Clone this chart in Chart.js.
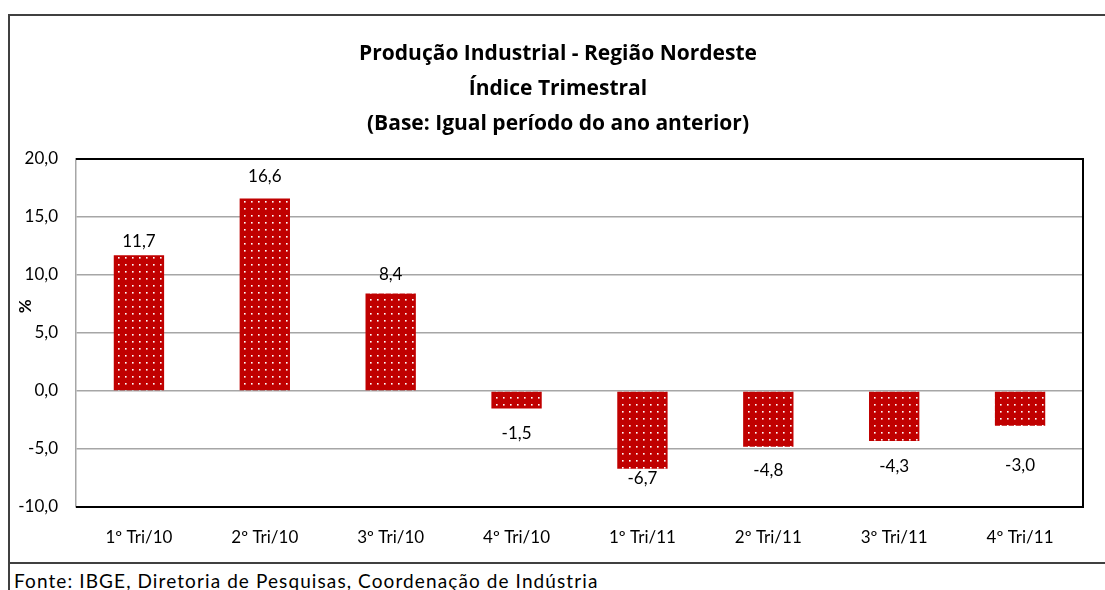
<!DOCTYPE html>
<html>
<head>
<meta charset="utf-8">
<script src="https://cdn.jsdelivr.net/npm/chart.js@4.4.0/dist/chart.umd.min.js"></script>
<style>
  html, body { margin: 0; padding: 0; background: #fff; overflow: hidden; }
  body { width: 1105px; height: 590px; position: relative; }
  #frame {
    position: absolute; left: 8px; top: 14px; width: 1110px; height: 550px;
    border: 2px solid #404040; box-sizing: border-box;
  }
  #wrap { position: absolute; left: 10px; top: 16px; width: 1095px; height: 548px; }
  #footer {
    position: absolute; left: 8px; top: 564px; width: 1110px; height: 40px;
    border-left: 2px solid #404040;
    font-family: Lato, "Open Sans", sans-serif; font-size: 19px; color: #000;
    letter-spacing: 1.1px;
    padding-left: 4px; line-height: 34px; box-sizing: border-box;
  }
</style>
</head>
<body>
<div id="frame"></div>
<div id="wrap"><canvas id="chart"></canvas></div>
<div id="footer">Fonte: IBGE, Diretoria de Pesquisas, Coordenação de Indústria</div>
<script>
// chart data
const categories = ['1º Tri/10', '2º Tri/10', '3º Tri/10', '4º Tri/10', '1º Tri/11', '2º Tri/11', '3º Tri/11', '4º Tri/11'];
const values = [11.7, 16.6, 8.4, -1.5, -6.7, -4.8, -4.3, -3.0];
const titleLines = ['Produção Industrial - Região Nordeste', 'Índice Trimestral', '(Base: Igual período do ano anterior)'];

const fmt = v => v.toFixed(1).replace('.', ',');
const FONT = 'Lato, "Open Sans", sans-serif';

// red with white dots, like the Excel fill pattern
function dotPattern() {
  const c = document.createElement('canvas');
  c.width = 7; c.height = 7;
  const g = c.getContext('2d');
  g.fillStyle = '#c00000';
  g.fillRect(0, 0, 7, 7);
  g.fillStyle = '#ffffff';
  g.fillRect(3, 3, 1.6, 1.6);
  return g.createPattern(c, 'repeat');
}

// value labels above / below bars (Excel had them nudged by hand)
const barLabels = {
  id: 'barLabels',
  afterDatasetsDraw(chart, args, opts) {
    const ctx = chart.ctx;
    const meta = chart.getDatasetMeta(0);
    ctx.save();
    ctx.font = '17px ' + FONT;
    ctx.fillStyle = '#000';
    ctx.textAlign = 'center';
    ctx.textBaseline = 'middle';
    meta.data.forEach((bar, i) => {
      const v = values[i];
      const off = opts.offsets[i];
      ctx.fillText(fmt(v), bar.x, v >= 0 ? bar.y - off : bar.y + off);
    });
    ctx.restore();
  }
};

// title (centred on the whole frame), black plot edges and the "%" label
const decor = {
  id: 'decor',
  afterDraw(chart) {
    const a = chart.chartArea;
    const ctx = chart.ctx;
    ctx.save();
    ctx.fillStyle = '#000';
    ctx.textAlign = 'center';
    ctx.textBaseline = 'middle';
    ctx.font = 'bold 21px "Open Sans", sans-serif';
    titleLines.forEach((t, i) => ctx.fillText(t, 548, 38 + i * 35));

    ctx.strokeStyle = '#000';
    ctx.lineWidth = 2;
    ctx.beginPath();
    ctx.moveTo(a.left, a.top);
    ctx.lineTo(a.right, a.top);
    ctx.lineTo(a.right, a.bottom);
    ctx.lineTo(a.left, a.bottom);
    ctx.stroke();

    const y = chart.scales.y.getPixelForValue(7.3);
    ctx.translate(a.left - 50, y);
    ctx.rotate(-Math.PI / 2);
    ctx.font = 'bold 17px ' + FONT;
    ctx.fillText('%', 0, 0);
    ctx.restore();
  }
};

new Chart(document.getElementById('chart'), {
  type: 'bar',
  data: {
    labels: categories,
    datasets: [{
      data: values,
      backgroundColor: dotPattern(),
      borderWidth: 0,
      barPercentage: 0.4,
      categoryPercentage: 1
    }]
  },
  options: {
    responsive: true,
    maintainAspectRatio: false,
    animation: false,
    layout: { padding: { left: 0, right: 22, top: 143, bottom: 0 } },
    plugins: {
      legend: { display: false },
      tooltip: { enabled: false },
      title: { display: false },
      barLabels: { offsets: [14, 22, 19, 25, 10, 24, 26, 40] }
    },
    scales: {
      x: {
        grid: { display: false },
        border: { display: false },
        ticks: { color: '#000', padding: 12, font: { family: FONT, size: 17 } },
        afterFit(s) { s.height = 57; }
      },
      y: {
        min: -10,
        max: 20,
        ticks: {
          stepSize: 5,
          color: '#000',
          padding: 18,
          font: { family: FONT, size: 17 },
          callback: v => fmt(v)
        },
        grid: { color: '#a6a6a6', lineWidth: 1.5, drawTicks: false },
        border: { color: '#a6a6a6', width: 1.5 },
        afterFit(s) { s.width = 66; }
      }
    }
  },
  plugins: [barLabels, decor]
});
</script>
</body>
</html>
